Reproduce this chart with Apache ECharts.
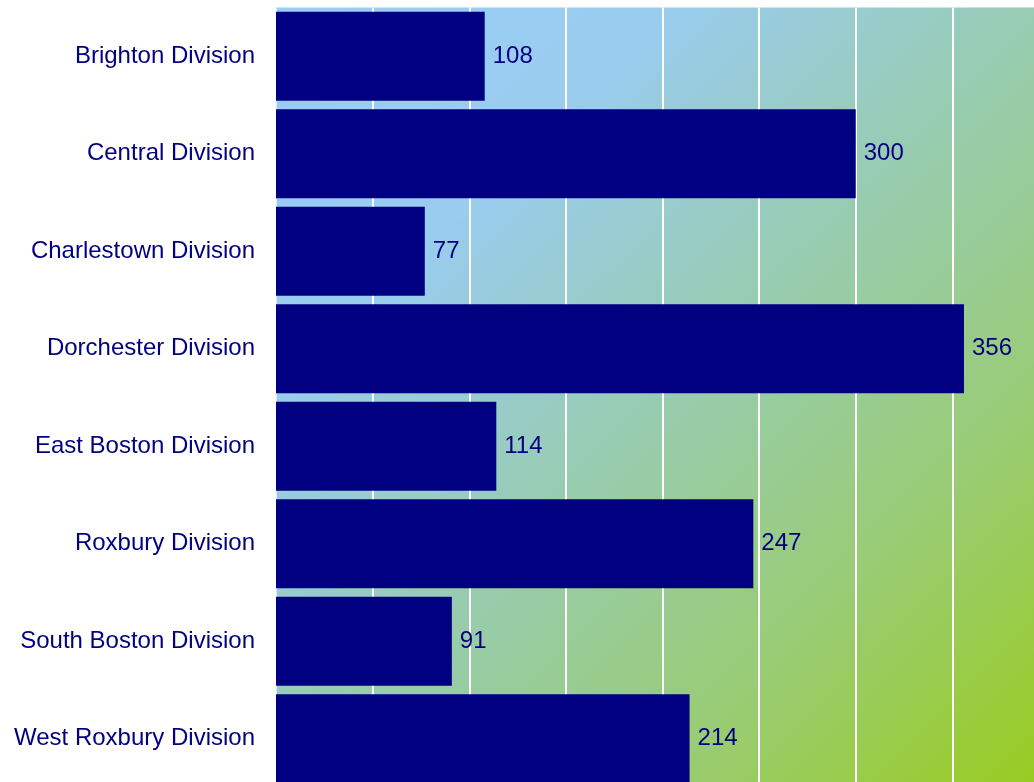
<!DOCTYPE html>
<html>
<head>
<meta charset="utf-8">
<script src="https://cdn.jsdelivr.net/npm/echarts@6/dist/echarts.min.js"></script>
<style>
html,body{margin:0;padding:0;background:#fff;}
#chart{width:1034px;height:782px;}
</style>
</head>
<body>
<div id="chart"></div>
<script>
const categories = ["Brighton Division","Central Division","Charlestown Division","Dorchester Division","East Boston Division","Roxbury Division","South Boston Division","West Roxbury Division"];
const values = [108, 300, 77, 356, 114, 247, 91, 214];

const chart = echarts.init(document.getElementById('chart'), null, {renderer:'canvas'});
chart.setOption({
  animation: false,
  grid: {
    left: 276, top: 7.5, width: 773, height: 780,
    outerBoundsMode: 'none',
    containLabel: false,
    show: true,
    borderWidth: 0,
    backgroundColor: new echarts.graphic.LinearGradient(0, 0, 1, 1, [
      {offset: 0, color: '#9ACDF8'},
      {offset: 0.25, color: '#99CCEE'},
      {offset: 0.5, color: '#98CCB0'},
      {offset: 0.75, color: '#99CC72'},
      {offset: 1, color: '#99CC1C'}
    ])
  },
  xAxis: {
    type: 'value', min: 0, max: 400, interval: 50,
    axisLine: {show: false}, axisTick: {show: false}, axisLabel: {show: false},
    splitLine: {show: true, lineStyle: {color: '#ffffff', width: 2}}
  },
  yAxis: {
    type: 'category', data: categories, inverse: true,
    axisLine: {show: true, lineStyle: {color: '#dcecf8', width: 1}},
    axisTick: {show: false},
    axisLabel: {
      margin: 21, fontSize: 24, color: '#000080',
      fontFamily: 'Liberation Sans, Arial, sans-serif'
    }
  },
  series: [{
    type: 'bar', data: values, barWidth: '91.5%',
    itemStyle: {color: '#000080'},
    label: {
      show: true, position: 'right', distance: 8,
      fontSize: 24, color: '#000080',
      fontFamily: 'Liberation Sans, Arial, sans-serif'
    }
  }]
});
</script>
</body>
</html>
